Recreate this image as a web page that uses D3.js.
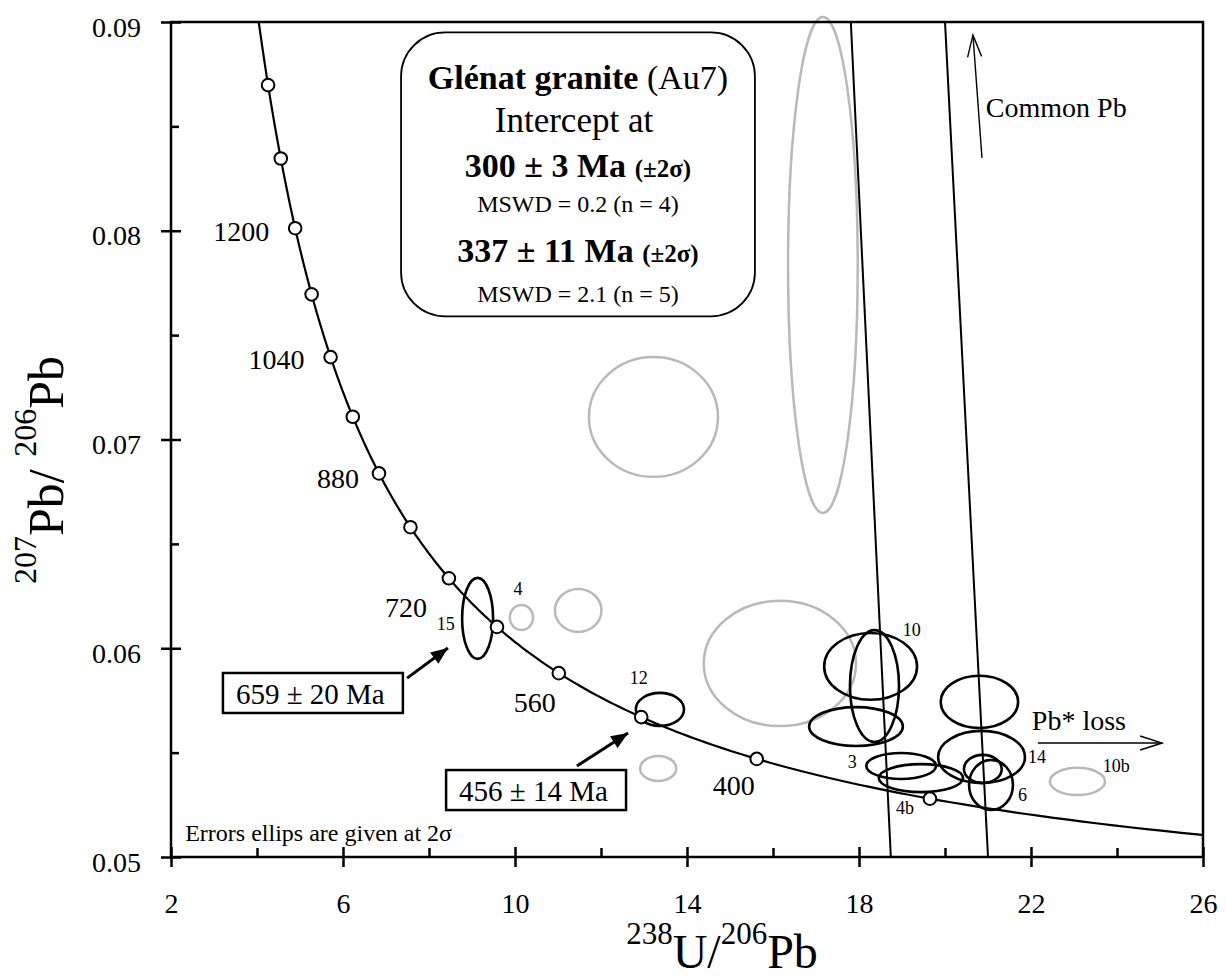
<!DOCTYPE html>
<html>
<head>
<meta charset="utf-8">
<script src="https://cdn.jsdelivr.net/npm/d3@7"></script>
<style>
  body { margin: 0; background: #fff; }
  svg text { font-family: "Liberation Serif", "Times New Roman", serif; fill: #000; }
</style>
</head>
<body>
<div id="chart"></div>
<script>
// axis ticks
const xTicks = [2, 6, 10, 14, 18, 22, 26];
const xMinorTicks = [4, 8, 12, 16, 20, 24];
const yTicks = [0.05, 0.06, 0.07, 0.08, 0.09];
const yMinorTicks = [0.055, 0.065, 0.075, 0.085];

// concordia age marks (Ma) and the ones that carry a label
const markerAges = [320, 400, 480, 560, 640, 720, 800, 880, 960, 1040, 1120, 1200, 1280, 1360];
const labelledAges = [1200, 1040, 880, 720, 560, 400];

// analyses used in the intercepts: [238U/206Pb, 207Pb/206Pb, 2s x, 2s y]
const blackEllipses = [
  [9.13, 0.06143, 0.36, 0.00194],   // 15
  [13.37, 0.05707, 0.56, 0.00079],  // 12
  [18.27, 0.05913, 1.08, 0.00160],  // 10
  [18.36, 0.05819, 0.57, 0.00268],
  [17.93, 0.05625, 1.09, 0.00093],
  [18.98, 0.05436, 0.81, 0.00062],  // 3
  [19.44, 0.05378, 0.98, 0.00067],  // 4b
  [20.80, 0.05743, 0.90, 0.00125],
  [20.85, 0.05479, 1.01, 0.00125],  // 14
  [20.88, 0.05422, 0.44, 0.00067],
  [21.07, 0.05345, 0.51, 0.00120]   // 6
];
// rejected analyses (grey)
const greyEllipses = [
  [13.22, 0.07108, 1.50, 0.00287],
  [17.16, 0.07836, 0.81, 0.01188],
  [10.15, 0.06147, 0.27, 0.00060],  // 4
  [11.47, 0.06181, 0.54, 0.00103],
  [16.16, 0.05927, 1.77, 0.00300],
  [13.33, 0.05424, 0.42, 0.00060],
  [23.08, 0.05362, 0.64, 0.00065]   // 10b
];
// spot numbers and where they sit (data coords)
const spotLabels = ["15", "4", "12", "10", "3", "4b", "14", "6", "10b"];
const spotLabelX = [8.60, 10.07, 12.88, 19.02, 17.95, 18.86, 21.93, 21.70, 23.67];
const spotLabelY = [0.06087, 0.06255, 0.05829, 0.06059, 0.05426, 0.05206, 0.05450, 0.05268, 0.05407];

// discordia lines: 238U/206Pb where they cross 207Pb/206Pb = 0.09 and 0.05
const discordiaAtTop = [17.81, 20.00];
const discordiaAtBottom = [18.74, 21.00];

// decay constants (1/yr) and present 238U/235U
const lambda238 = 1.55125e-10;
const lambda235 = 9.8485e-10;
const u238u235 = 137.88;

const W = 1225, H = 978;
const margin = {top: 22, right: 22, bottom: 121, left: 171};
const innerW = W - margin.left - margin.right;
const innerH = H - margin.top - margin.bottom;

const svg = d3.select("#chart").append("svg")
  .attr("width", W).attr("height", H);

const defs = svg.append("defs");
defs.append("clipPath").attr("id", "plotClip")
  .append("rect").attr("width", innerW).attr("height", innerH);
defs.append("marker").attr("id", "solidHead")
  .attr("markerUnits", "userSpaceOnUse")
  .attr("viewBox", "-18 -8 20 16").attr("refX", 0).attr("refY", 0)
  .attr("markerWidth", 20).attr("markerHeight", 16).attr("orient", "auto")
  .append("path").attr("d", "M-17,-7L0,0L-17,7Z").attr("fill", "#000");
defs.append("marker").attr("id", "openHead")
  .attr("markerUnits", "userSpaceOnUse")
  .attr("viewBox", "-24 -9 26 18").attr("refX", 0).attr("refY", 0)
  .attr("markerWidth", 26).attr("markerHeight", 18).attr("orient", "auto")
  .append("path").attr("d", "M-22,-7L0,0L-22,7")
  .attr("fill", "none").attr("stroke", "#000").attr("stroke-width", 1.4);

const g = svg.append("g").attr("transform", `translate(${margin.left},${margin.top})`);

const x = d3.scaleLinear().domain([2, 26]).range([0, innerW]);
const y = d3.scaleLinear().domain([0.05, 0.09]).range([innerH, 0]);

// Tera-Wasserburg concordia point for an age in Ma
function tw(ageMa) {
  const t = ageMa * 1e6;
  const e8 = Math.exp(lambda238 * t) - 1;
  const e5 = Math.exp(lambda235 * t) - 1;
  return [1 / e8, e5 / e8 / u238u235];
}

// grey ellipses
g.append("g").selectAll("ellipse").data(greyEllipses).join("ellipse")
  .attr("cx", d => x(d[0])).attr("cy", d => y(d[1]))
  .attr("rx", d => x(d[0] + d[2]) - x(d[0]))
  .attr("ry", d => y(d[1]) - y(d[1] + d[3]))
  .attr("fill", "none").attr("stroke", "#b9b9b9").attr("stroke-width", 2.5);

// discordia
g.append("g").attr("clip-path", "url(#plotClip)")
  .selectAll("line").data(discordiaAtTop).join("line")
  .attr("x1", d => x(d)).attr("y1", y(0.09))
  .attr("x2", (d, i) => x(discordiaAtBottom[i])).attr("y2", y(0.05))
  .attr("stroke", "#000").attr("stroke-width", 2);

// concordia curve
const ages = d3.range(200, 1500, 4);
g.append("path").attr("clip-path", "url(#plotClip)")
  .datum(ages.map(tw))
  .attr("d", d3.line().x(d => x(d[0])).y(d => y(d[1])))
  .attr("fill", "none").attr("stroke", "#000").attr("stroke-width", 2.2);

// black ellipses
g.append("g").selectAll("ellipse").data(blackEllipses).join("ellipse")
  .attr("cx", d => x(d[0])).attr("cy", d => y(d[1]))
  .attr("rx", d => x(d[0] + d[2]) - x(d[0]))
  .attr("ry", d => y(d[1]) - y(d[1] + d[3]))
  .attr("fill", "none").attr("stroke", "#000").attr("stroke-width", 2.6);

// age markers
g.append("g").selectAll("circle").data(markerAges).join("circle")
  .attr("cx", d => x(tw(d)[0])).attr("cy", d => y(tw(d)[1]))
  .attr("r", 6.3).attr("fill", "#fff").attr("stroke", "#000").attr("stroke-width", 2);

// age labels, offset from their marker
const ageLabelOffset = {
  1200: [-26, 13, "end"], 1040: [-26, 12, "end"], 880: [-20, 15, "end"],
  720: [-22, 39, "end"], 560: [-45, 39, "start"], 400: [-44, 36, "start"]
};
g.append("g").selectAll("text").data(labelledAges).join("text")
  .attr("x", d => x(tw(d)[0]) + ageLabelOffset[d][0])
  .attr("y", d => y(tw(d)[1]) + ageLabelOffset[d][1])
  .attr("text-anchor", d => ageLabelOffset[d][2])
  .attr("font-size", 28).text(d => d);

// spot labels
const spotAnchor = ["end", "middle", "middle", "start", "end", "start", "start", "start", "start"];
g.append("g").selectAll("text").data(spotLabels).join("text")
  .attr("x", (d, i) => x(spotLabelX[i])).attr("y", (d, i) => y(spotLabelY[i]))
  .attr("text-anchor", (d, i) => spotAnchor[i])
  .attr("font-size", 18).text(d => d);

// axes
const xAxisG = g.append("g").attr("transform", `translate(0,${innerH})`);
xAxisG.call(d3.axisBottom(x).tickValues(xTicks).tickSize(10).tickPadding(26).tickFormat(d3.format("d")));
xAxisG.append("g").call(d3.axisBottom(x).tickValues(xTicks).tickSize(-10).tickFormat(""));
xAxisG.append("g").call(d3.axisBottom(x).tickValues(xMinorTicks).tickSize(-9).tickFormat(""));

const yAxisG = g.append("g");
yAxisG.call(d3.axisLeft(y).tickValues(yTicks).tickSize(10).tickPadding(20).tickFormat(d3.format(".2f")));
yAxisG.append("g").call(d3.axisLeft(y).tickValues(yTicks).tickSize(-10).tickFormat(""));
yAxisG.append("g").call(d3.axisLeft(y).tickValues(yMinorTicks).tickSize(-8).tickFormat(""));

svg.selectAll(".domain").remove();
svg.selectAll(".tick line").attr("stroke", "#000").attr("stroke-width", 2.5);
svg.selectAll(".tick text").attr("font-size", 28)
  .style("font-family", '"Liberation Serif", "Times New Roman", serif');
yAxisG.selectAll(".tick text").attr("dy", "0.5em");

// frame
g.append("rect").attr("width", innerW).attr("height", innerH)
  .attr("fill", "none").attr("stroke", "#000").attr("stroke-width", 2.5);

// results box
const boxX0 = x(7.35), boxX1 = x(15.58), boxY0 = y(0.0895), boxY1 = y(0.0759);
const box = g.append("g");
box.append("rect").attr("x", boxX0).attr("y", boxY0)
  .attr("width", boxX1 - boxX0).attr("height", boxY1 - boxY0)
  .attr("rx", 44).attr("ry", 44)
  .attr("fill", "#fff").attr("stroke", "#000").attr("stroke-width", 1.8);
const bcx = (boxX0 + boxX1) / 2;
const t1 = box.append("text").attr("x", bcx).attr("y", boxY0 + 57).attr("text-anchor", "middle").attr("font-size", 34);
t1.append("tspan").attr("font-weight", "bold").text("Glénat granite");
t1.append("tspan").text(" (Au7)");
box.append("text").attr("x", bcx - 4).attr("y", boxY0 + 100).attr("text-anchor", "middle").attr("font-size", 35).text("Intercept at");
const t3 = box.append("text").attr("x", bcx).attr("y", boxY0 + 145).attr("text-anchor", "middle").attr("font-weight", "bold").attr("font-size", 34);
t3.append("tspan").text("300 ± 3 Ma ");
t3.append("tspan").attr("font-size", 25).text("(±2σ)");
box.append("text").attr("x", bcx).attr("y", boxY0 + 180).attr("text-anchor", "middle").attr("font-size", 24).text("MSWD = 0.2 (n = 4)");
const t5 = box.append("text").attr("x", bcx).attr("y", boxY0 + 230).attr("text-anchor", "middle").attr("font-weight", "bold").attr("font-size", 34);
t5.append("tspan").text("337 ± 11 Ma ");
t5.append("tspan").attr("font-size", 25).text("(±2σ)");
box.append("text").attr("x", bcx).attr("y", boxY0 + 270).attr("text-anchor", "middle").attr("font-size", 24).text("MSWD = 2.1 (n = 5)");

// boxed age callouts with arrows
function callout(label, tx, ty, from, to) {
  const t = g.append("text").attr("x", x(tx)).attr("y", y(ty)).attr("font-size", 29).text(label);
  const bb = t.node().getBBox();
  g.insert("rect", () => t.node())
    .attr("x", bb.x - 13).attr("y", bb.y - 5)
    .attr("width", bb.width + 31).attr("height", bb.height + 8)
    .attr("fill", "#fff").attr("stroke", "#000").attr("stroke-width", 2.5);
  g.append("line")
    .attr("x1", x(from[0])).attr("y1", y(from[1]))
    .attr("x2", x(to[0])).attr("y2", y(to[1]))
    .attr("stroke", "#000").attr("stroke-width", 3)
    .attr("marker-end", "url(#solidHead)");
}
callout("659 ± 20 Ma", 3.51, 0.05733, [7.49, 0.05857], [8.44, 0.06001]);
callout("456 ± 14 Ma", 8.70, 0.05268, [11.44, 0.05436], [12.63, 0.05594]);

// common Pb and Pb* loss trends
g.append("line")
  .attr("x1", x(20.86)).attr("y1", y(0.08349)).attr("x2", x(20.65)).attr("y2", y(0.08938))
  .attr("stroke", "#000").attr("stroke-width", 1.4).attr("marker-end", "url(#openHead)");
g.append("text").attr("x", x(20.95)).attr("y", y(0.08545)).attr("font-size", 28).text("Common Pb");
g.append("line")
  .attr("x1", x(22.16)).attr("y1", y(0.05546)).attr("x2", x(25.05)).attr("y2", y(0.05546))
  .attr("stroke", "#000").attr("stroke-width", 1.4).attr("marker-end", "url(#openHead)");
g.append("text").attr("x", x(22.02)).attr("y", y(0.05608)).attr("font-size", 28).text("Pb* loss");

g.append("text").attr("x", x(2.33)).attr("y", y(0.05077)).attr("font-size", 24)
  .text("Errors ellips are given at 2σ");

// axis titles
const xt = svg.append("text").attr("x", 722).attr("y", 968).attr("text-anchor", "middle").attr("font-size", 48);
xt.append("tspan").attr("font-size", 31).attr("dy", -24).text("238");
xt.append("tspan").attr("dy", 24).text("U/");
xt.append("tspan").attr("font-size", 31).attr("dy", -24).text("206");
xt.append("tspan").attr("dy", 24).text("Pb");

const yt = svg.append("text").attr("transform", "translate(63,470) rotate(-90)")
  .attr("text-anchor", "middle").attr("font-size", 50);
yt.append("tspan").attr("font-size", 32).attr("dy", -27).text("207");
yt.append("tspan").attr("dy", 27).text("Pb/ ");
yt.append("tspan").attr("font-size", 32).attr("dy", -27).text("206");
yt.append("tspan").attr("dy", 27).text("Pb");
</script>
</body>
</html>
